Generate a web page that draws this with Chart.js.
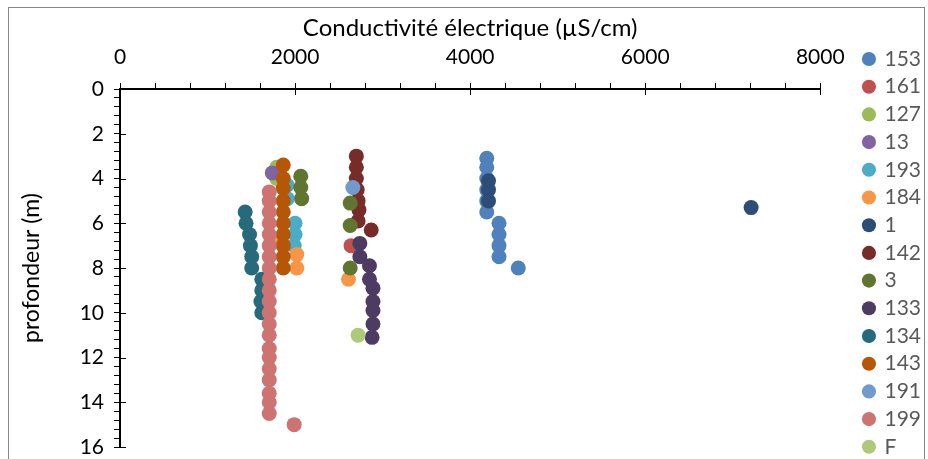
<!DOCTYPE html>
<html>
<head>
<meta charset="utf-8">
<script src="https://cdn.jsdelivr.net/npm/chart.js@4.4.0/dist/chart.umd.min.js"></script>
<style>
  html, body { margin: 0; padding: 0; background: #fff; }
</style>
</head>
<body>
<canvas id="chart" width="928" height="459"></canvas>
<script>
// Series names (legend order)
const seriesNames = ['153', '161', '127', '13', '193', '184', '1', '142', '3', '133', '134', '143', '191', '199', 'F'];

// Conductivity (µS/cm) and depth (m) per series
const cond153 = [4190, 4190, 4190, 4190, 4190, 4190, 4330, 4330, 4330, 4330, 4550];
const depth153 = [3.1, 3.5, 4.0, 4.5, 5.0, 5.5, 6.0, 6.5, 7.0, 7.5, 8.0];
const cond161 = [2640];
const depth161 = [7.0];
const cond127 = [1790, 1790];
const depth127 = [3.5, 4.0];
const cond13 = [1740];
const depth13 = [3.75];
const cond193 = [1910, 1910, 2000, 2000, 1990];
const depth193 = [4.3, 4.9, 6.0, 6.5, 7.0];
const cond184 = [1790, 2020, 2020, 2610];
const depth184 = [6.7, 7.4, 8.0, 8.5];
const cond1 = [4210, 4210, 4210, 7210];
const depth1 = [4.1, 4.5, 5.0, 5.3];
const cond142 = [2700, 2700, 2700, 2710, 2720, 2730, 2720, 2870];
const depth142 = [3.0, 3.5, 4.0, 4.5, 5.0, 5.4, 5.9, 6.3];
const cond3 = [2065, 2065, 2075, 2630, 2630, 2630];
const depth3 = [3.9, 4.4, 4.9, 5.1, 6.1, 8.0];
const cond133 = [2740, 2740, 2850, 2850, 2890, 2890, 2890, 2890, 2880];
const depth133 = [6.9, 7.5, 7.9, 8.5, 8.9, 9.5, 9.9, 10.5, 11.1];
const cond134 = [1430, 1440, 1480, 1490, 1505, 1505, 1620, 1620, 1610, 1620];
const depth134 = [5.5, 6.0, 6.5, 7.0, 7.5, 8.0, 8.5, 9.0, 9.5, 10.0];
const cond143 = [1865, 1865, 1865, 1865, 1865, 1865, 1865, 1865, 1865, 1865];
const depth143 = [3.4, 4.0, 4.45, 5.0, 5.5, 6.0, 6.5, 7.0, 7.5, 8.0];
const cond191 = [2660];
const depth191 = [4.4];
const cond199 = [1705, 1705, 1705, 1705, 1705, 1705, 1705, 1705, 1705, 1705, 1705,
                 1705, 1705, 1705, 1705, 1705, 1705, 1705, 1705, 1705, 1705, 1990];
const depth199 = [4.6, 5.0, 5.5, 6.0, 6.5, 7.0, 7.5, 8.0, 8.5, 9.0, 9.5,
                  10.0, 10.5, 11.0, 11.6, 12.0, 12.5, 13.0, 13.6, 14.0, 14.5, 15.0];
const condF = [2720];
const depthF = [11.0];

const seriesCond = [cond153, cond161, cond127, cond13, cond193, cond184, cond1, cond142,
                    cond3, cond133, cond134, cond143, cond191, cond199, condF];
const seriesDepth = [depth153, depth161, depth127, depth13, depth193, depth184, depth1, depth142,
                     depth3, depth133, depth134, depth143, depth191, depth199, depthF];

// Axis ranges
const condMin = 0, condMax = 8000, condStep = 400, condLabelStep = 2000;
const depthMin = 0, depthMax = 16, depthStep = 0.4, depthLabelStep = 2;

const palette = ['#4F81BD', '#C0504D', '#9BBB59', '#8064A2', '#4BACC6', '#F79646', '#2C4D75',
                 '#772C2A', '#5F7530', '#4D3B62', '#276A7C', '#B65708', '#729ACA', '#CD7371', '#AFC97A'];

const FONT = "'Lato', 'Liberation Sans', sans-serif";

// Build scatter datasets, later series drawn on top (like Excel)
const datasets = seriesNames.map((name, i) => ({
  label: name,
  data: seriesCond[i].map((c, j) => ({ x: c, y: seriesDepth[i][j] })),
  backgroundColor: palette[i],
  borderColor: palette[i],
  borderWidth: 0,
  pointRadius: 7.5,
  pointHoverRadius: 7.5,
  pointStyle: 'circle',
  order: seriesNames.length - i
}));

// White background and outer frame
const framePlugin = {
  id: 'frame',
  beforeDraw(chart) {
    const ctx = chart.ctx;
    ctx.save();
    ctx.fillStyle = '#fff';
    ctx.fillRect(0, 0, chart.width, chart.height);
    ctx.strokeStyle = '#868686';
    ctx.lineWidth = 1;
    ctx.strokeRect(8.5, 7.5, 916, 470);
    ctx.restore();
  }
};

// Major ticks cross the axis line (inner half)
const majorTickPlugin = {
  id: 'majorTicks',
  afterDatasetsDraw(chart) {
    const ctx = chart.ctx;
    const { x, y } = chart.scales;
    ctx.save();
    ctx.strokeStyle = '#000';
    ctx.lineWidth = 1;
    ctx.beginPath();
    for (let v = condMin; v <= condMax; v += condLabelStep) {
      const px = Math.round(x.getPixelForValue(v)) + 0.5;
      ctx.moveTo(px, y.top);
      ctx.lineTo(px, y.top + 6);
    }
    for (let v = depthMin; v <= depthMax; v += depthLabelStep) {
      const py = Math.round(y.getPixelForValue(v)) + 0.5;
      ctx.moveTo(x.left, py);
      ctx.lineTo(x.left + 6, py);
    }
    ctx.stroke();
    ctx.restore();
  }
};

function isMultiple(v, step) {
  return Math.abs(v / step - Math.round(v / step)) < 1e-6;
}

new Chart(document.getElementById('chart'), {
  type: 'scatter',
  data: { datasets: datasets },
  plugins: [framePlugin, majorTickPlugin],
  options: {
    responsive: false,
    animation: false,
    layout: { padding: { top: 0, left: 0, right: -3, bottom: -46.8 } },
    plugins: {
      tooltip: { enabled: false },
      legend: {
        position: 'right',
        align: 'center',
        labels: {
          usePointStyle: true,
          pointStyle: 'circle',
          boxWidth: 10,
          boxHeight: 10,
          padding: 6.7,
          color: '#595959',
          font: { family: FONT, size: 21 },
          sort: (a, b) => a.datasetIndex - b.datasetIndex
        }
      }
    },
    scales: {
      x: {
        type: 'linear',
        position: 'top',
        min: condMin,
        max: condMax,
        afterFit(scale) {
          scale.height = 89;
          scale.paddingLeft = 0;
          scale.paddingRight = 0;
        },
        ticks: {
          stepSize: condStep,
          autoSkip: false,
          maxRotation: 0,
          padding: 13.4,
          color: '#000',
          font: { family: FONT, size: 21 },
          callback: v => isMultiple(v, condLabelStep) ? v : ''
        },
        grid: { drawOnChartArea: false, tickLength: 6, color: '#000', tickWidth: 1 },
        border: { display: true, color: '#000', width: 2 },
        title: {
          display: true,
          text: 'Conductivité électrique (µS/cm)',
          color: '#000',
          font: { family: FONT, size: 24 },
          padding: { top: 13.6, bottom: 0 }
        }
      },
      y: {
        type: 'linear',
        position: 'left',
        reverse: true,
        min: depthMin,
        max: depthMax,
        afterFit(scale) {
          scale.width = 120;
          scale.paddingTop = 0;
          scale.paddingBottom = 0;
        },
        ticks: {
          stepSize: depthStep,
          autoSkip: false,
          padding: 10,
          color: '#000',
          font: { family: FONT, size: 21 },
          callback: v => isMultiple(v, depthLabelStep) ? v : ''
        },
        grid: { drawOnChartArea: false, tickLength: 6, color: '#000', tickWidth: 1 },
        border: { display: true, color: '#000', width: 2 },
        title: {
          display: true,
          text: 'profondeur (m)',
          color: '#000',
          font: { family: FONT, size: 23 },
          padding: { top: 18, bottom: 0 }
        }
      },
      padRight: {
        type: 'linear',
        position: 'right',
        display: true,
        afterFit(scale) { scale.width = 37; },
        ticks: { display: false },
        grid: { display: false },
        border: { display: false },
        title: { display: false }
      },
      padBottom: {
        type: 'linear',
        position: 'bottom',
        display: true,
        afterFit(scale) { scale.height = 58.8; },
        ticks: { display: false },
        grid: { display: false },
        border: { display: false },
        title: { display: false }
      }
    }
  }
});
</script>
</body>
</html>
